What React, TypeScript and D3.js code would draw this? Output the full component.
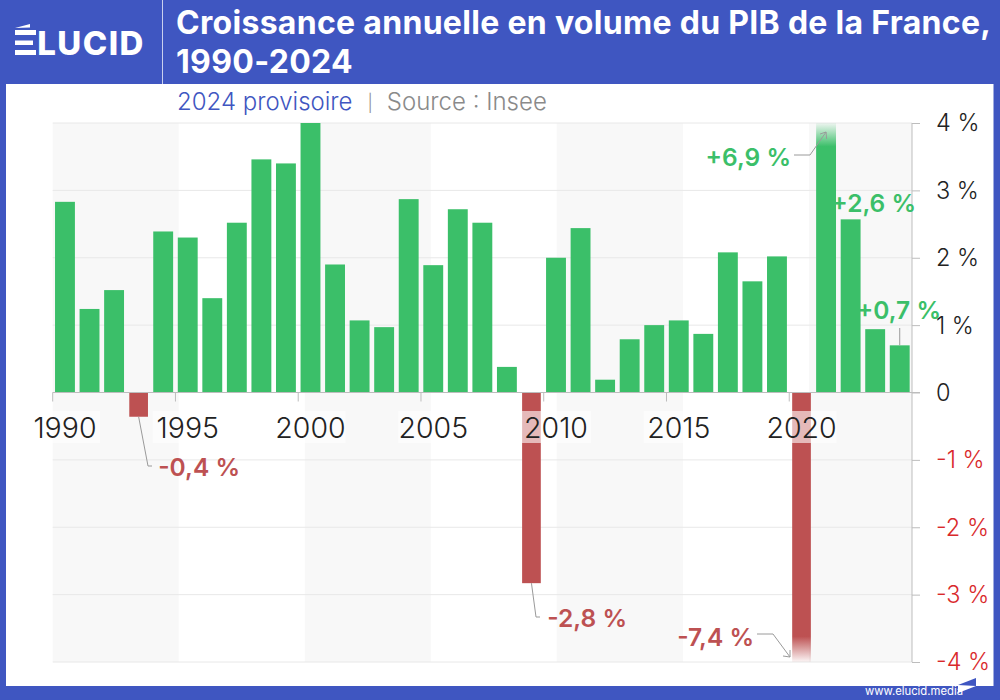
import { useEffect, useRef } from "react";
import * as d3 from "d3";

const years = d3.range(1990, 2025);
const growth = [
  2.83, 1.24, 1.52, -0.36, 2.39, 2.3, 1.4, 2.52, 3.46, 3.4, 4.1, 1.9, 1.07, 0.97, 2.87, 1.89, 2.72, 2.52,
  0.38, -2.83, 2.0, 2.44, 0.19, 0.79, 1.0, 1.07, 0.87, 2.08, 1.65, 2.02, -7.4, 6.9, 2.57, 0.94, 0.7,
];
const yTicks = [4, 3, 2, 1, 0, -1, -2, -3, -4];
const xTicks = [1990, 1995, 2000, 2005, 2010, 2015, 2020];
// edges of the grey stripes, in years (they don't line up exactly with the ticks)
const stripes = [
  [1990, 1995.13],
  [2000.27, 2005.4],
  [2010.53, 2015.67],
  [2020.8, 2025],
];
const notes = [
  { label: "+6,9 %", year: 2021, value: 6.9 },
  { label: "+2,6 %", year: 2022, value: 2.57 },
  { label: "+0,7 %", year: 2024, value: 0.7 },
  { label: "-0,4 %", year: 1993, value: -0.36 },
  { label: "-2,8 %", year: 2009, value: -2.83 },
  { label: "-7,4 %", year: 2020, value: -7.4 },
];

const BLUE = "#3f56c1";
const GREEN = "#3bbf69";
const RED = "#bd5152";
const FONT = "Inter, 'Noto Sans', sans-serif";

document.body.style.margin = "0";

export default function App() {
  const ref = useRef<SVGSVGElement | null>(null);

  useEffect(() => {
    const svg = d3.select(ref.current!);
    svg.selectAll("*").remove();
    svg.style("font-family", FONT);

    const left = 52.7;
    const right = 912;
    const top = 123;
    const bottom = 662;

    const x = d3.scaleBand<number>().domain(years).range([left, right]).paddingInner(0.19).paddingOuter(0.095);
    const xEdge = d3.scaleLinear().domain([1990, 2025]).range([left, right]);
    const y = d3.scaleLinear().domain([-4, 4]).range([bottom, top]).clamp(true);
    const cx = (yr: number) => x(yr)! + x.bandwidth() / 2;

    // frame
    svg.append("rect").attr("width", 1000).attr("height", 700).attr("fill", BLUE);
    svg.append("rect").attr("x", 6).attr("y", 84).attr("width", 987.5).attr("height", 602).attr("fill", "#fff");
    svg.append("line").attr("x1", 162.5).attr("x2", 162.5).attr("y1", 0).attr("y2", 84).attr("stroke", "#c9d0ee").attr("stroke-width", 1);

    // logo: the E has no stem, so its glyph stays in frame colour and the bars go on top
    const logo = svg.append("text").attr("x", 20).attr("y", 54.5).attr("fill", "#fff").attr("font-size", 33).attr("font-weight", 800).attr("letter-spacing", 1.4);
    logo.append("tspan").attr("fill", BLUE).attr("font-size", 26).text("É");
    logo.append("tspan").text("LUCID");
    svg.append("path").attr("fill", "#fff").attr("d", "M15,30H36V35H15ZM15,40.5H33V45H15ZM15,50H36V55H15ZM15,28L30,24V27.5L15,28Z");

    // title
    const title = svg.append("g").attr("fill", "#fff").attr("font-size", 32).attr("font-weight", 700).attr("letter-spacing", 0.3);
    title.append("text").attr("x", 176).attr("y", 34).text("Croissance annuelle en volume du PIB de la France,");
    title.append("text").attr("x", 176).attr("y", 73).text("1990-2024");

    // subtitle
    const sub = svg.append("text").attr("x", 177).attr("y", 110).attr("font-size", 24).attr("font-weight", 300);
    sub.append("tspan").attr("fill", BLUE).text("2024 provisoire");
    sub.append("tspan").attr("fill", "#8a8a8a").attr("font-size", 17).attr("dy", -1.5).attr("dx", 15).text("|");
    sub.append("tspan").attr("fill", "#8a8a8a").attr("dy", 1.5).attr("dx", 14).text("Source : Insee");

    // stripes + grid
    svg.append("g").selectAll("rect").data(stripes).join("rect")
      .attr("x", (d) => xEdge(d[0]))
      .attr("width", (d) => xEdge(d[1]) - xEdge(d[0]))
      .attr("y", top)
      .attr("height", bottom - top)
      .attr("fill", "#f8f8f8");

    svg.append("g").selectAll("line").data(yTicks).join("line")
      .attr("x1", left)
      .attr("x2", right)
      .attr("y1", (d) => y(d))
      .attr("y2", (d) => y(d))
      .attr("stroke", "#e8e8e8");

    // fades on the two clipped bars
    const defs = svg.append("defs");
    const upFade = defs.append("linearGradient").attr("id", "fade-up").attr("gradientUnits", "userSpaceOnUse")
      .attr("x1", 0).attr("x2", 0).attr("y1", y(4)).attr("y2", y(3.65));
    upFade.append("stop").attr("offset", "0%").attr("stop-color", GREEN).attr("stop-opacity", 0.05);
    upFade.append("stop").attr("offset", "100%").attr("stop-color", GREEN).attr("stop-opacity", 1);
    const downFade = defs.append("linearGradient").attr("id", "fade-down").attr("gradientUnits", "userSpaceOnUse")
      .attr("x1", 0).attr("x2", 0).attr("y1", y(-3.62)).attr("y2", y(-4));
    downFade.append("stop").attr("offset", "0%").attr("stop-color", RED).attr("stop-opacity", 1);
    downFade.append("stop").attr("offset", "100%").attr("stop-color", RED).attr("stop-opacity", 0.05);

    const data = years.map((year, i) => ({ year, value: growth[i] }));
    // only the 2020 and 2021 bars fade out, 2000 just touches the top
    const barFill = (v: number) => (v > 5 ? "url(#fade-up)" : v < -4 ? "url(#fade-down)" : v < 0 ? RED : GREEN);
    svg.append("g").selectAll("rect").data(data).join("rect")
      .attr("x", (d) => x(d.year)! + (d.value < 0 ? 0.6 : 0))
      .attr("width", (d) => x.bandwidth() - (d.value < 0 ? 1.2 : 0))
      .attr("y", (d) => y(Math.max(0, d.value)))
      .attr("height", (d) => Math.abs(y(d.value) - y(0)))
      .attr("fill", (d) => barFill(d.value));

    // y axis on the right
    const yAxis = svg.append("g").attr("transform", `translate(${right},0)`).call(
      d3.axisRight(y).tickValues(yTicks).tickSize(8).tickFormat(() => "")
    );
    yAxis.selectAll("path,line").attr("stroke", "#bdbdbd");
    yAxis.select(".domain").attr("d", `M0,${top}V${bottom}`);

    svg.append("g").selectAll("text").data(yTicks).join("text")
      .attr("x", 936)
      .attr("y", (d) => y(d))
      .attr("dy", "0.36em")
      .attr("font-size", 23.5)
      .attr("font-weight", 300)
      .attr("fill", (d) => (d < 0 ? "#d9292b" : "#222"))
      .text((d) => (d === 0 ? "0" : `${d} %`));

    // x axis: ticks at the left edge of each year
    const xAxis = svg.append("g").attr("transform", `translate(0,${y(0)})`);
    xAxis.append("line").attr("x1", left).attr("x2", right + 8).attr("stroke", "#bdbdbd");
    xAxis.selectAll("line.tick").data(xTicks).join("line").attr("class", "tick")
      .attr("x1", (d) => xEdge(d)).attr("x2", (d) => xEdge(d)).attr("y1", 0).attr("y2", 9)
      .attr("stroke", "#bdbdbd");

    const labels = svg.append("g");
    xTicks.forEach((yr) => {
      labels.append("rect")
        .attr("x", cx(yr) - 35)
        .attr("y", 411)
        .attr("width", 70)
        .attr("height", 32)
        .attr("fill", "#fff")
        .attr("fill-opacity", 0.6);
      labels.append("text")
        .attr("x", cx(yr))
        .attr("y", 438)
        .attr("text-anchor", "middle")
        .attr("font-size", 28.5)
        .attr("font-weight", 300)
        .attr("fill", "#222")
        .text(yr);
    });

    // annotations
    const noteX: Record<string, number> = { "+6,9 %": 791, "+2,6 %": 916, "+0,7 %": 941, "-0,4 %": 240, "-2,8 %": 627, "-7,4 %": 754 };
    const noteY: Record<string, number> = { "+6,9 %": 166, "+2,6 %": 212, "+0,7 %": 319, "-0,4 %": 476, "-2,8 %": 627, "-7,4 %": 646 };
    svg.append("g").selectAll("text").data(notes).join("text")
      .attr("x", (d) => noteX[d.label])
      .attr("y", (d) => noteY[d.label])
      .attr("text-anchor", "end")
      .attr("font-size", 24.5)
      .attr("font-weight", 600)
      .attr("fill", (d) => (d.value > 0 ? GREEN : RED))
      .text((d) => d.label);

    const leader = d3.line();
    const c = svg.append("g").attr("fill", "none").attr("stroke", "#9a9a9a").attr("stroke-width", 1);
    c.append("path").attr("d", leader([[794, 155], [810, 155], [cx(2021), 132]]));
    c.append("path").attr("d", leader([[cx(2021) - 6, 134], [cx(2021), 132], [cx(2021) + 0.5, 139]]));
    c.append("path").attr("d", leader([[cx(2024), 328], [cx(2024), y(0.7)]]));
    c.append("path").attr("d", leader([[cx(1993), y(-0.36)], [148, 466], [152, 466]]));
    c.append("path").attr("d", leader([[cx(2009), y(-2.83)], [536, 617], [540, 617]]));
    c.append("path").attr("d", leader([[757, 634], [773, 634], [790, 657]]));
    c.append("path").attr("d", leader([[783, 656], [790, 657], [790, 650]]));

    // footer
    svg.append("text").attr("x", 865).attr("y", 695).attr("font-size", 11.3).attr("font-weight", 400).attr("fill", "#fff").text("www.elucid.media");
    svg.append("path").attr("d", "M958,685L976,678V686Z").attr("fill", BLUE);
    svg.append("path").attr("d", "M958,686H976L958,693Z").attr("fill", "#fff");
  }, []);

  return <svg ref={ref} width={1000} height={700} style={{ display: "block" }} />;
}
